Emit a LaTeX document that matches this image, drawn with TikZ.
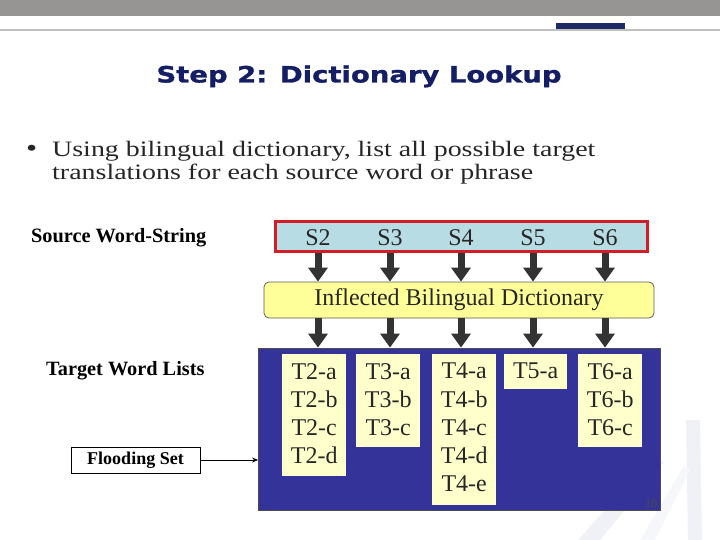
\documentclass[tikz,border=0pt]{standalone}
\usepackage{fontspec}
\setmainfont{Liberation Serif}
\newfontfamily\titlefont[FakeStretch=1.22,FakeBold=1.2]{DejaVu Sans}
\newfontfamily\widefont[FakeStretch=1.27]{Liberation Serif}
\usetikzlibrary{arrows.meta}
\definecolor{topgray}{RGB}{150,149,147}
\definecolor{linegray}{RGB}{192,192,192}
\definecolor{navy}{RGB}{30,42,100}
\definecolor{titleblue}{RGB}{20,30,100}
\definecolor{srcfill}{RGB}{184,220,228}
\definecolor{srcred}{RGB}{210,28,40}
\definecolor{dictfill}{RGB}{255,255,153}
\definecolor{tfill}{RGB}{255,255,204}
\definecolor{bluebox}{RGB}{51,51,153}
\definecolor{arrowgray}{RGB}{51,51,51}
\definecolor{wmark}{RGB}{240,241,247}
\tikzset{
  bigarrow/.style={draw=arrowgray, line width=7pt, -{Triangle[width=19pt,length=14pt]}},
  slabel/.style={font=\fontsize{24}{26}\selectfont, text=black!85, inner sep=0pt},
  tcol/.style={fill=tfill, draw=none, anchor=north west, inner sep=0pt},
  tlabel/.style={font=\fontsize{24}{28}\selectfont, text=black!85, align=center, inner sep=0pt},
  sidelabel/.style={font=\bfseries\fontsize{20.3}{22}\selectfont, inner sep=0pt},
}
\begin{document}
\begin{tikzpicture}[x=1pt,y=-1pt]
\useasboundingbox (0,0) rectangle (720,540);
\fill[white] (0,0) rectangle (720,540);
% faint watermark
\fill[wmark] (578,540) -- (600,540) -- (664,462) -- (652,458) -- cycle;
\fill[wmark] (686,420) -- (700,420) -- (702,540) -- (688,540) -- cycle;
\fill[wmark!60] (640,540) -- (655,540) -- (690,470) -- (684,466) -- cycle;
% header
\fill[topgray] (0,0) rectangle (720,16);
\fill[linegray] (0,29) rectangle (720,31);
\fill[navy] (556,23) rectangle (625,29);
% title
\node[font=\titlefont\bfseries\fontsize{22.5}{26}\selectfont, text=titleblue, inner sep=0pt, anchor=base] (title) at (359,82.5) {Step 2: Dictionary Lookup};
% bullet
\node[font=\widefont\fontsize{25}{24}\selectfont, text=black!85, inner sep=0pt, anchor=base west] (bul) at (26,157) {\textbullet};
\node[font=\widefont\fontsize{22}{23}\selectfont, text=black!85, inner sep=0pt, anchor=base west, align=left] (btext) at (52,157) {Using bilingual dictionary, list all possible target};
\node[font=\widefont\fontsize{22}{23}\selectfont, text=black!85, inner sep=0pt, anchor=base west, align=left] (btext2) at (52,180) {translations for each source word or phrase};
% side labels
\node[sidelabel, anchor=west] (swslabel) at (31,238) {Source Word-String};
\node[sidelabel, anchor=west] (twllabel) at (46,371) {Target Word Lists};
\node[draw=black, line width=1pt, fill=white, minimum width=129pt, minimum height=26pt, inner sep=0pt, font=\bfseries\fontsize{18}{20}\selectfont] (flood) at (135.5,460) {Flooding Set};
% source box
\node[draw=srcred, line width=3pt, fill=srcfill, minimum width=372pt, minimum height=29pt, inner sep=0pt] (src) at (461.5,236.5) {};
\foreach \i/\xx in {2/318,3/390,4/461,5/533,6/605}{
  \node[slabel] (S\i) at (\xx,238) {S\i};
}
% dictionary
\node[draw=arrowgray!80, line width=0.8pt, fill=dictfill, rounded corners=5pt, minimum width=390pt, minimum height=36pt, inner sep=0pt, font=\fontsize{24}{26}\selectfont, text=black!85] (dict) at (459,300) {Inflected Bilingual Dictionary};
% blue box
\node[draw=black!70, line width=0.8pt, fill=bluebox, minimum width=402pt, minimum height=162pt, inner sep=0pt] (blue) at (459.5,429) {};
% arrows
\foreach \i in {2,...,6}{
  \draw[bigarrow] (S\i.south |- src.south) -- (S\i.south |- dict.north);
  \draw[bigarrow] (dict.south -| S\i) -- (blue.north -| S\i);
}
% target columns
\node[tcol, minimum width=64pt, minimum height=122pt] (T2) at (282,354) {};
\node[tcol, minimum width=64pt, minimum height=93pt] (T3) at (356,354) {};
\node[tcol, minimum width=64pt, minimum height=151pt] (T4) at (432,354) {};
\node[tcol, minimum width=63pt, minimum height=35pt] (T5) at (504,354) {};
\node[tcol, minimum width=64pt, minimum height=93pt] (T6) at (578,354) {};
\node[tlabel, anchor=north] (T2t) at ([yshift=-9pt]T2.north) {T2-a\\T2-b\\T2-c\\T2-d};
\node[tlabel, anchor=north] (T3t) at ([yshift=-9pt]T3.north) {T3-a\\T3-b\\T3-c};
\node[tlabel, anchor=north] (T4t) at ([yshift=-9pt]T4.north) {T4-a\\T4-b\\T4-c\\T4-d\\T4-e};
\node[tlabel, anchor=north] (T5t) at ([yshift=-9pt]T5.north) {T5-a};
\node[tlabel, anchor=north] (T6t) at ([yshift=-9pt]T6.north) {T6-a\\T6-b\\T6-c};
% flooding arrow
\draw[line width=1pt, -{Stealth[length=6pt,width=5pt]}] (flood.east) -- (flood.east -| blue.west);
% page number
\node[font=\fontsize{12}{14}\selectfont, text=black!70, inner sep=0pt] (pnum) at (651,504) {10};
\end{tikzpicture}
\end{document}
